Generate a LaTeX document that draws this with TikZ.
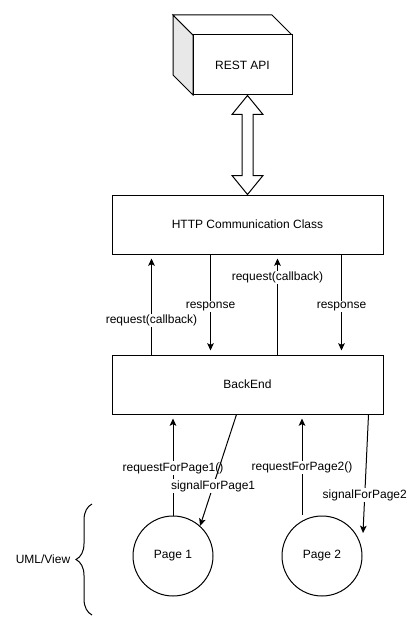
\documentclass[tikz,border=0pt]{standalone}
\usepackage{fontspec}
\setmainfont{Liberation Sans}
\usetikzlibrary{arrows.meta}
\usetikzlibrary{calc}
\usetikzlibrary{decorations.pathreplacing}

\tikzset{
  box/.style={draw, line width=0.75pt, fill=white, minimum width=203.25pt, minimum height=44.25pt, inner sep=0pt},
  page/.style={draw, circle, line width=0.75pt, minimum size=60pt, inner sep=0pt},
  conn/.style={line width=0.75pt, -{Stealth[length=5.5pt,width=5pt,inset=1.3pt]}},
  gap/.style={shorten >=3pt},
  lbl/.style={fill=white, inner sep=1pt},
}

\begin{document}
\begin{tikzpicture}[x=0.75pt,y=0.75pt,yscale=-1,xscale=1,font=\fontsize{9}{10}\selectfont]
\useasboundingbox (0,0) rectangle (416,631);

%Shape: Cube [id:rest]
\draw [line width=0.75pt, fill=gray!18] (173,15) -- (193,35) -- (193,95) -- (173,75) -- cycle ;
\draw [line width=0.75pt, fill=white] (173,15) -- (272,15) -- (292,35) -- (193,35) -- cycle ;
\node [draw, line width=0.75pt, fill=white, minimum width=74.25pt, minimum height=45pt, inner sep=0pt] (api) at (242.5,65) {REST API};

%Shape: Rectangle [id:http]
\node [box] (http) at (247.5,224.5) {HTTP Communication Class};
%Shape: Rectangle [id:backend]
\node [box] (backend) at (247.5,384.5) {BackEnd};

%Shape: Circle [id:p1]
\node [page] (p1) at (173,556) {Page 1};
%Shape: Circle [id:p2]
\node [page] (p2) at (322,556) {Page 2};

%Double Arrow [id:link]
\draw [line width=0.75pt, fill=white] (http.north) -- ++(-15.5,-19) -- ++(10,0) -- ++(0,-61) -- ++(-10,0) -- ++(15.5,-19) -- ++(15.5,19) -- ++(-10,0) -- ++(0,61) -- ++(10,0) -- cycle ;

%Straight Lines [id:req1]
\draw [conn, gap] ($(backend.north west)+(40,0)$) -- ($(http.south west)+(40,0)$) node [lbl, pos=0.34] {request(callback)} ;
%Straight Lines [id:resp1]
\draw [conn, gap] ($(http.south west)+(99,0)$) -- ($(backend.north west)+(99,0)$) node [lbl, pos=0.52] {response} ;
%Straight Lines [id:req2]
\draw [conn, gap] ($(backend.north west)+(166,0)$) -- ($(http.south west)+(166,0)$) node [lbl, pos=0.77] {request(callback)} ;
%Straight Lines [id:resp2]
\draw [conn, gap] ($(http.south west)+(230,0)$) -- ($(backend.north west)+(230,0)$) node [lbl, pos=0.52] {response} ;

%Straight Lines [id:page1]
\draw [conn, gap] (p1.north) -- (p1.north |- backend.south) node [lbl, pos=0.47] {requestForPage1()} ;
%Straight Lines [id:sig1]
\draw [conn] ($(backend.south west)+(125,0)$) -- (p1.48) node [lbl, pos=0.643] {signalForPage1} ;
%Straight Lines [id:page2]
\coordinate (r2) at ($(p2.north)+(-20,-1)$);
\draw [conn, gap] (r2) -- (r2 |- backend.south) node [lbl, pos=0.47] {requestForPage2()} ;
%Straight Lines [id:sig2]
\coordinate (s2) at ($(p2.center)+(41,-23)$);
\draw [conn] ($(backend.south west)+(257,0)$) -- (s2) node [lbl, pos=0.68] {signalForPage2} ;

%Brace [id:view]
\draw [line width=0.75pt, decorate, decoration={brace, amplitude=12pt, aspect=0.5}] (92,615) -- (92,504) ;
% Text Node
\node (uml) at (43,559) {UML/View};

\end{tikzpicture}
\end{document}
